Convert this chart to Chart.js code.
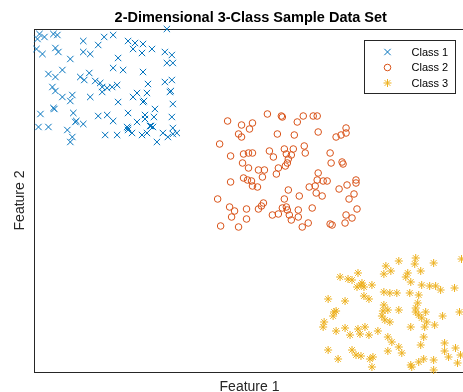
<!DOCTYPE html>
<html>
<head>
<meta charset="utf-8">
<script src="https://cdn.jsdelivr.net/npm/chart.js@4/dist/chart.umd.min.js"></script>
<style>
  html, body { margin: 0; padding: 0; background: #fff; }
  /* 右端と下端は元の図でも切れているので、少し大きいキャンバスを切り取る */
  #wrap { position: relative; width: 463px; height: 392px; overflow: hidden; }
  #chart { position: absolute; left: 0; top: 0; }
</style>
</head>
<body>
<div id="wrap"><canvas id="chart" width="470" height="400"></canvas></div>
<script>
/* --------- データ --------- */
const titleText = "2-Dimensional 3-Class Sample Data Set";
const xLabel = "Feature 1";
const yLabel = "Feature 2";
const classLabels = ["Class 1", "Class 2", "Class 3"];

// 軸の範囲（目盛りなし）
const xRange = [0, 432];
const yRange = [0, 343];

// 各クラスの点 [Feature 1, Feature 2]
const class1 = [
  [5,338],[10,335],[3,333],[19,338],[23,337],[133,343],[49,331],[70,335],[79,337],[64,327],
  [94,331],[101,329],[109,328],[99,323],[108,319],[118,323],[2,323],[8,318],[21,324],[24,320],
  [36,313],[49,320],[56,318],[84,314],[131,320],[138,317],[133,309],[139,309],[28,302],[14,298],
  [21,295],[79,304],[89,302],[109,300],[46,295],[50,292],[55,299],[61,291],[66,289],[68,285],
  [73,284],[78,285],[83,287],[131,290],[138,292],[114,288],[18,285],[21,281],[28,275],[38,277],
  [36,271],[56,275],[68,280],[103,279],[99,275],[113,279],[109,270],[110,271],[136,280],[137,281],
  [84,270],[139,268],[6,258],[19,264],[20,263],[39,259],[64,256],[73,257],[94,259],[121,263],
  [120,255],[111,257],[41,250],[42,251],[49,248],[79,251],[103,250],[111,253],[138,255],[4,245],
  [14,245],[33,242],[38,235],[36,230],[71,237],[83,237],[93,245],[94,244],[94,242],[98,239],
  [108,237],[116,246],[117,246],[119,245],[129,239],[123,230],[139,244],[139,238],[134,235],[143,239],
  [113,239]
];
const class2 = [
  [194,251],[234,258],[248,256],[249,255],[264,250],[270,256],[280,256],[284,256],[208,247],[219,249],
  [216,243],[205,238],[208,235],[244,238],[261,237],[285,240],[313,244],[303,235],[308,237],[313,239],
  [186,228],[197,216],[210,218],[215,219],[219,219],[236,221],[240,215],[251,223],[253,218],[260,223],
  [271,226],[272,219],[297,219],[298,209],[309,210],[310,208],[209,209],[215,204],[225,202],[231,202],
  [245,204],[243,198],[252,206],[255,213],[254,209],[258,217],[197,190],[210,194],[214,192],[218,191],
  [219,186],[224,185],[229,195],[285,199],[284,192],[290,191],[294,191],[276,185],[282,186],[283,179],
  [289,176],[255,182],[266,176],[306,183],[314,187],[323,192],[323,189],[321,178],[316,173],[184,173],
  [196,165],[201,161],[198,155],[213,163],[213,153],[225,163],[228,166],[230,169],[239,157],[245,158],
  [249,164],[251,173],[253,165],[254,162],[256,157],[265,162],[265,155],[258,152],[269,145],[279,164],
  [275,149],[187,146],[205,145],[297,148],[299,147],[313,157],[312,149],[319,154],[324,163]
];
const class3 = [
  [366,111],[383,114],[382,108],[401,109],[353,106],[358,101],[351,98],[388,101],[375,99],[373,95],
  [378,90],[429,113],[307,95],[315,93],[319,92],[325,99],[329,89],[328,87],[324,85],[331,85],
  [339,87],[389,87],[397,86],[403,86],[408,82],[422,84],[295,73],[312,71],[331,76],[336,73],
  [351,80],[357,79],[364,79],[377,79],[386,77],[385,69],[383,64],[351,67],[301,60],[303,61],
  [300,56],[291,50],[290,45],[303,41],[312,44],[350,61],[355,62],[366,62],[349,56],[352,52],
  [357,50],[383,60],[386,57],[393,60],[389,54],[394,50],[402,47],[410,56],[427,60],[392,45],
  [378,45],[325,43],[332,45],[327,38],[317,37],[336,37],[345,41],[355,35],[359,30],[391,35],
  [295,22],[319,22],[323,17],[328,16],[305,13],[337,13],[340,15],[339,5],[355,21],[366,25],
  [369,19],[388,27],[412,29],[423,24],[412,21],[416,15],[428,17],[425,9],[391,13],[401,12],
  [386,10],[378,7],[379,5],[401,2]
];

// MATLAB 既定の色
const classColors = ["#0072BD", "#D95319", "#EDB120"];
const classMarkers = ["crossRot", "circle", "star"];
const classRadius = [4.5, 3.3, 4];

/* --------- ヘルパ --------- */
const toPoints = (arr) => arr.map(([x, y]) => ({ x, y }));

function makeDataset(i, arr) {
  return {
    label: classLabels[i],
    data: toPoints(arr),
    pointStyle: classMarkers[i],
    pointRadius: classRadius[i],
    pointBorderWidth: 1,
    borderColor: classColors[i],
    backgroundColor: "rgba(0,0,0,0)",
    showLine: false,
    clip: false,
  };
}

// 目盛りなしの枠線だけの軸
function boxAxis(position, range, title) {
  return {
    type: "linear",
    position,
    min: range[0],
    max: range[1],
    ticks: { display: false },
    grid: { display: false, drawTicks: false },
    border: { display: true, color: "#262626", width: 1 },
    title: title || { display: false },
  };
}

/* --------- 枠付き凡例（右上） --------- */
const boxLegend = {
  id: "boxLegend",
  afterDatasetsDraw(chart) {
    const { ctx, chartArea } = chart;
    const left = Math.round(chartArea.right - 101) + 0.5;
    const top = Math.round(chartArea.top + 11) + 0.5;
    ctx.save();
    ctx.fillStyle = "#fff";
    ctx.strokeStyle = "#262626";
    ctx.lineWidth = 1;
    ctx.fillRect(left, top, 91, 53);
    ctx.strokeRect(left, top, 91, 53);
    chart.data.datasets.forEach((ds, i) => {
      const y = top + 11.5 + i * 15.5;
      ctx.strokeStyle = ds.borderColor;
      ctx.fillStyle = ds.backgroundColor;
      ctx.lineWidth = ds.pointBorderWidth;
      Chart.helpers.drawPoint(ctx, {
        pointStyle: ds.pointStyle, radius: ds.pointRadius,
        borderWidth: ds.pointBorderWidth, rotation: 0,
      }, left + 23, y);
      ctx.fillStyle = "#000";
      ctx.font = "11px 'Liberation Sans', Arial, sans-serif";
      ctx.textBaseline = "middle";
      ctx.fillText(ds.label, left + 47, y + 0.5);
    });
    ctx.restore();
  },
};

/* --------- 描画 --------- */
Chart.defaults.font.family = "'Liberation Sans', Arial, Helvetica, sans-serif";
Chart.defaults.color = "#262626";

new Chart(document.getElementById("chart"), {
  type: "scatter",
  data: {
    datasets: [makeDataset(0, class1), makeDataset(1, class2), makeDataset(2, class3)],
  },
  options: {
    responsive: false,
    animation: false,
    events: [],
    layout: { padding: { left: 34.5, right: 3, top: 0, bottom: 0 } },
    plugins: {
      legend: { display: false },
      tooltip: { enabled: false },
      title: {
        display: true,
        text: titleText,
        color: "#000",
        font: { size: 14.5, weight: "bold" },
        padding: { top: 8.8, bottom: 2.8 },
      },
    },
    scales: {
      x: boxAxis("bottom", xRange, {
        display: true, text: xLabel, font: { size: 14 },
        padding: { top: 6.6, bottom: 4.6 },
      }),
      // y 軸ラベルは枠の外に出すため、幅がゼロになるよう余白を調整
      y: boxAxis("left", yRange, {
        display: true, text: yLabel, font: { size: 14 },
        padding: { top: -22.9, bottom: 6.1 },
      }),
      x2: boxAxis("top", xRange),
      y2: boxAxis("right", yRange),
    },
  },
  plugins: [boxLegend],
});
</script>
</body>
</html>
